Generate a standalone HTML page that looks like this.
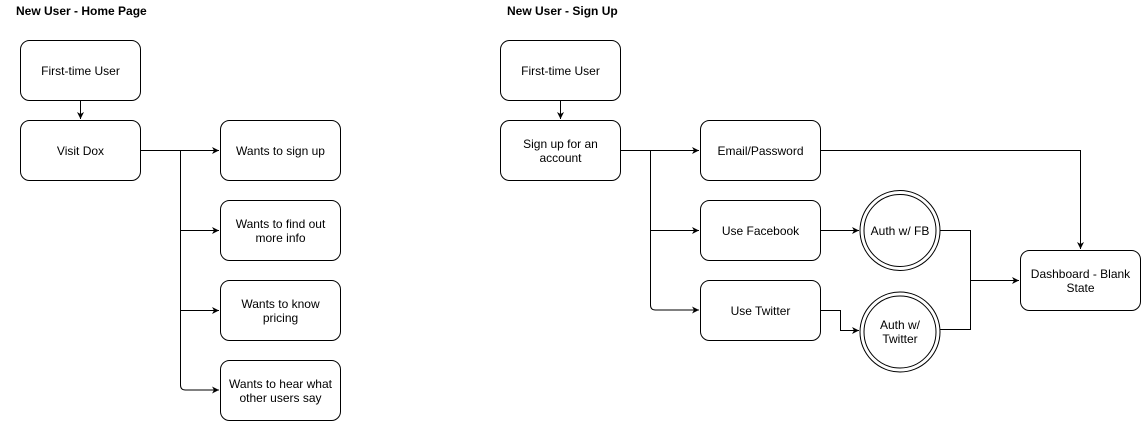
<!DOCTYPE html>
<html><head><style>
html,body{margin:0;padding:0;background:#fff;}
svg{display:block;}
text{font-family:"Liberation Sans",Arial,sans-serif;font-size:12px;fill:#000;}
.t{font-weight:bold;}
rect,circle{fill:#fff;stroke:#000;stroke-width:1;}
.l{fill:none;stroke:#000;stroke-width:1;}
</style></head><body>
<svg width="1141" height="422" viewBox="0 0 1141 422" xmlns="http://www.w3.org/2000/svg">
<defs><marker id="a" markerWidth="8" markerHeight="8" refX="7" refY="4" orient="auto" markerUnits="userSpaceOnUse"><path d="M0,0.5 L7,4 L0,7.5 L2,4 Z" fill="#000"/></marker></defs>
<text class="t" x="16" y="15">New User - Home Page</text>
<text class="t" x="507" y="15">New User - Sign Up</text>
<!-- left -->
<path class="l" d="M80.5,100 V119" marker-end="url(#a)"/>
<path class="l" d="M140,150.5 H219" marker-end="url(#a)"/>
<path class="l" d="M180.5,150 V385 Q180.5,390 185.5,390 H219" marker-end="url(#a)"/>
<path class="l" d="M180.5,230.5 H219" marker-end="url(#a)"/>
<path class="l" d="M180.5,310.5 H219" marker-end="url(#a)"/>
<rect x="20.5" y="40.5" width="120" height="60" rx="9"/>
<rect x="20.5" y="120.5" width="120" height="60" rx="9"/>
<rect x="220.5" y="120.5" width="120" height="60" rx="9"/>
<rect x="220.5" y="200.5" width="120" height="60" rx="9"/>
<rect x="220.5" y="280.5" width="120" height="60" rx="9"/>
<rect x="220.5" y="360.5" width="120" height="60" rx="9"/>
<g text-anchor="middle">
<text x="80.5" y="75">First-time User</text>
<text x="80.5" y="155">Visit Dox</text>
<text x="280.5" y="155">Wants to sign up</text>
<text x="280.5" y="228">Wants to find out</text><text x="280.5" y="242">more info</text>
<text x="280.5" y="308">Wants to know</text><text x="280.5" y="322">pricing</text>
<text x="280.5" y="388">Wants to hear what</text><text x="280.5" y="402">other users say</text>
</g>
<!-- right -->
<path class="l" d="M560.5,100 V119" marker-end="url(#a)"/>
<path class="l" d="M620,150.5 H699" marker-end="url(#a)"/>
<path class="l" d="M650.5,150 V305 Q650.5,310 655.5,310 H699" marker-end="url(#a)"/>
<path class="l" d="M650.5,230.5 H699" marker-end="url(#a)"/>
<path class="l" d="M820,150.5 H1080.5 V249" marker-end="url(#a)"/>
<path class="l" d="M820,230.5 H859" marker-end="url(#a)"/>
<path class="l" d="M820,310.5 H840.5 V330.5 H859" marker-end="url(#a)"/>
<path class="l" d="M940,230.5 H970.5 V329.5 H940"/>
<path class="l" d="M970.5,280.5 H1019" marker-end="url(#a)"/>
<rect x="500.5" y="40.5" width="120" height="60" rx="9"/>
<rect x="500.5" y="120.5" width="120" height="60" rx="9"/>
<rect x="700.5" y="120.5" width="120" height="60" rx="9"/>
<rect x="700.5" y="200.5" width="120" height="60" rx="9"/>
<rect x="700.5" y="280.5" width="120" height="60" rx="9"/>
<rect x="1020.5" y="250.5" width="120" height="60" rx="9"/>
<circle cx="900" cy="230.5" r="40"/><circle cx="900" cy="230.5" r="36"/>
<circle cx="900" cy="332" r="40"/><circle cx="900" cy="332" r="36"/>
<g text-anchor="middle">
<text x="560.5" y="75">First-time User</text>
<text x="560.5" y="148">Sign up for an</text><text x="560.5" y="162">account</text>
<text x="760.5" y="155">Email/Password</text>
<text x="760.5" y="235">Use Facebook</text>
<text x="760.5" y="315">Use Twitter</text>
<text x="900" y="235">Auth w/ FB</text>
<text x="900" y="329">Auth w/</text><text x="900" y="343">Twitter</text>
<text x="1080.5" y="278">Dashboard - Blank</text><text x="1080.5" y="292">State</text>
</g>
</svg>
</body></html>
